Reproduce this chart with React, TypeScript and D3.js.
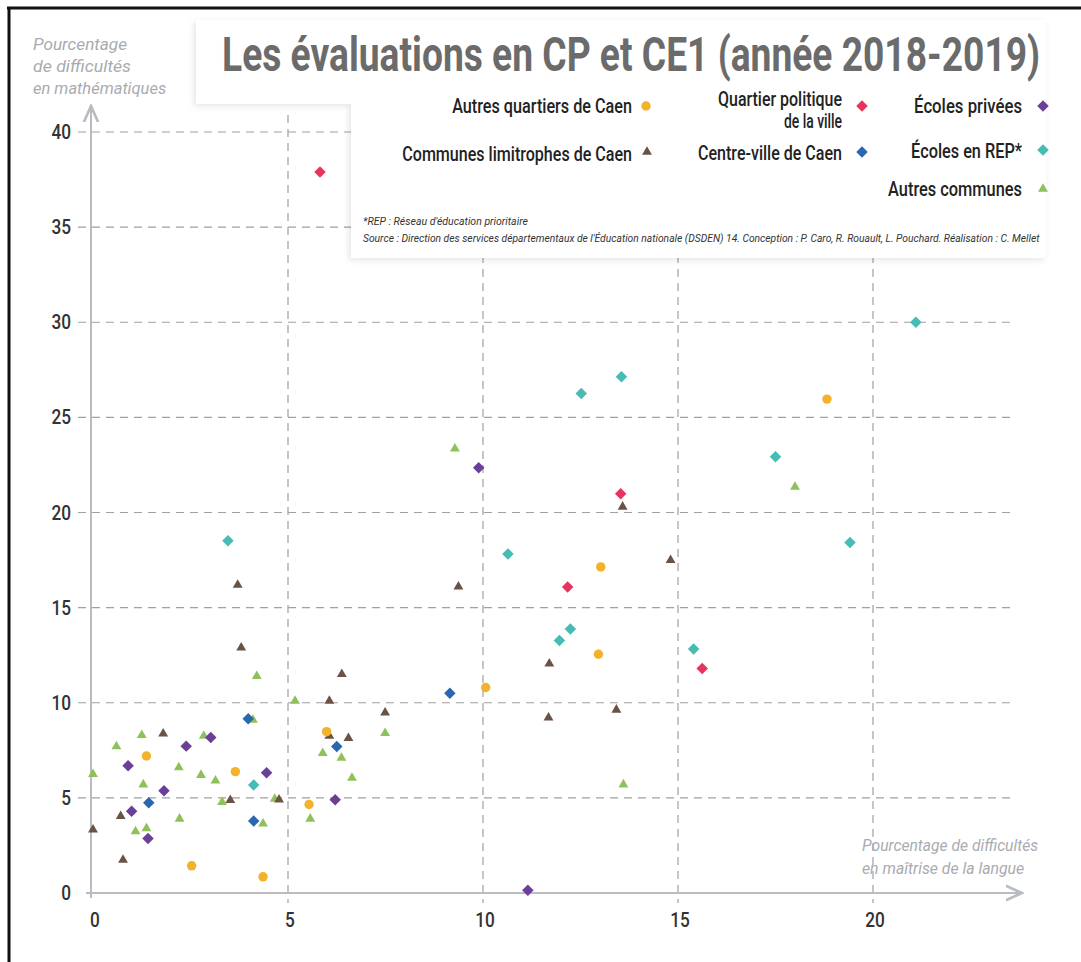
import React, { useLayoutEffect, useRef, useState } from 'react';
import * as d3 from 'd3';

// [x = % difficultés langue, y = % difficultés maths]
const autresQuartiers = [[1.37,7.2],[2.53,1.43],[3.65,6.38],[4.36,0.85],[5.54,4.65],[5.99,8.48],[10.07,10.8],[12.96,12.55],[13.02,17.14],[18.82,25.96]];
const communesLimitrophes = [[0,3.33],[0.71,4.04],[0.77,1.74],[1.8,8.38],[3.52,4.88],[3.71,16.19],[3.8,12.9],[4.77,4.91],[6.06,10.1],[6.06,8.26],[6.38,11.5],[6.55,8.14],[7.49,9.48],[9.37,16.1],[11.7,12.05],[11.68,9.21],[13.42,9.63],[13.58,20.3],[14.81,17.5]];
const quartierPolitique = [[5.82,37.9],[12.17,16.09],[13.53,20.98],[15.62,11.8]];
const centreVille = [[1.43,4.74],[3.98,9.16],[4.12,3.78],[6.25,7.7],[9.15,10.5]];
const ecolesPrivees = [[0.9,6.69],[0.99,4.3],[1.41,2.86],[1.82,5.38],[2.39,7.72],[3.02,8.17],[4.45,6.32],[6.21,4.9],[9.89,22.35],[11.15,0.15]];
const ecolesRep = [[3.46,18.51],[4.12,5.68],[10.64,17.82],[11.96,13.27],[12.24,13.88],[12.52,26.26],[13.55,27.13],[15.4,12.82],[17.5,22.93],[19.41,18.42],[21.1,30.0]];
const autresCommunes = [[0,6.25],[0.6,7.7],[1.25,8.3],[1.29,5.7],[1.09,3.24],[1.37,3.4],[2.2,6.6],[2.22,3.9],[2.77,6.2],[2.84,8.26],[3.14,5.9],[3.31,4.77],[4.1,9.1],[4.2,11.4],[4.36,3.64],[4.66,4.95],[5.18,10.1],[5.57,3.9],[5.89,7.35],[6.37,7.1],[6.64,6.05],[7.49,8.4],[9.28,23.35],[13.6,5.7],[18.0,21.34]];

const xTicks = [0, 5, 10, 15, 20];
const yTicks = [0, 5, 10, 15, 20, 25, 30, 35, 40];

// draw order: big groups first
const series = [
  { name: 'Autres communes', data: autresCommunes, shape: 'triangle', color: '#8fc15a' },
  { name: 'Communes limitrophes de Caen', data: communesLimitrophes, shape: 'triangle', color: '#6a5244' },
  { name: 'Autres quartiers de Caen', data: autresQuartiers, shape: 'circle', color: '#f2b22c' },
  { name: 'Écoles privées', data: ecolesPrivees, shape: 'diamond', color: '#6b3f98' },
  { name: 'Centre-ville de Caen', data: centreVille, shape: 'diamond', color: '#2b66b1' },
  { name: 'Écoles en REP*', data: ecolesRep, shape: 'diamond', color: '#46bcb3' },
  { name: 'Quartier politique de la ville', data: quartierPolitique, shape: 'diamond', color: '#e8345c' },
];

const font = "Roboto, 'Noto Sans', sans-serif";

const symbolPath = (shape) => {
  if (shape === 'circle') return d3.symbol(d3.symbolCircle, 70)();
  if (shape === 'triangle') return d3.symbol(d3.symbolTriangle, 42)();
  return d3.symbol(d3.symbolSquare, 66)();
};

const Marker = ({ shape, color, cx, cy }) => (
  <path
    d={symbolPath(shape)}
    fill={color}
    transform={`translate(${cx},${cy})${shape === 'diamond' ? ' rotate(45)' : ''}`}
  />
);

// text squeezed horizontally to a target width (condensed look)
const FitText = ({ x, y, width, anchor = 'start', children, ...rest }) => {
  const ref = useRef(null);
  const [k, setK] = useState(0.8);
  useLayoutEffect(() => {
    if (ref.current) {
      const w = ref.current.getComputedTextLength();
      if (w > 0) setK(width / w);
    }
  }, [width, children]);
  return (
    <text ref={ref} x={0} y={0} textAnchor={anchor} fontFamily={font} transform={`translate(${x},${y}) scale(${k},1)`} {...rest}>
      {children}
    </text>
  );
};

export default function App() {
  const width = 1081, height = 962;
  const x = d3.scaleLinear().domain([0, 20]).range([93, 873]);
  const y = d3.scaleLinear().domain([0, 40]).range([893, 132]);
  const gridColor = '#a0a0a0';
  const axisColor = '#b9bcc2';

  const legend = [
    { lines: [['Autres quartiers de Caen', 180]], right: 632, y: 113, mx: 646, my: 106, s: series[2] },
    { lines: [['Communes limitrophes de Caen', 230]], right: 632, y: 161, mx: 647, my: 152, s: series[1] },
    { lines: [['Quartier politique', 124], ['de la ville', 58]], right: 842, y: 106, mx: 862, my: 106, s: series[6] },
    { lines: [['Centre-ville de Caen', 144]], right: 842, y: 160, mx: 862, my: 152, s: series[4] },
    { lines: [['Écoles privées', 108]], right: 1022, y: 113, mx: 1043, my: 106, s: series[3] },
    { lines: [['Écoles en REP*', 111]], right: 1022, y: 158, mx: 1043, my: 150, s: series[5] },
    { lines: [['Autres communes', 134]], right: 1022, y: 196, mx: 1043, my: 189, s: series[0] },
  ];

  return (
    <svg width={width} height={height} style={{ position: 'absolute', left: 0, top: 0, background: '#fff' }}>
      <defs>
        <filter id="shadow" x="-5%" y="-10%" width="110%" height="130%">
          <feDropShadow dx="-2" dy="2" stdDeviation="3" floodColor="#000" floodOpacity="0.1" />
        </filter>
        <marker id="arrow" viewBox="0 0 10 10" refX="9" refY="5" markerWidth="9" markerHeight="9" orient="auto">
          <path d="M0,1 L9,5 L0,9" fill="none" stroke={axisColor} strokeWidth="1.5" />
        </marker>
      </defs>
      <rect x={0} y={0} width={width} height={height} fill="#fff" />

      {/* grid */}
      {yTicks.filter(t => t > 0).map(t => (
        <line key={'gy' + t} x1={78} x2={1010} y1={y(t)} y2={y(t)} stroke={gridColor} strokeWidth={1.2} strokeDasharray="8,6" />
      ))}
      {xTicks.filter(t => t > 0).map(t => (
        <line key={'gx' + t} x1={x(t)} x2={x(t)} y1={115} y2={903} stroke={gridColor} strokeWidth={1.2} strokeDasharray="8,6" />
      ))}

      {/* axes */}
      <line x1={86} x2={1022} y1={y(0)} y2={y(0)} stroke={axisColor} strokeWidth={2} markerEnd="url(#arrow)" />
      <line x1={91} x2={91} y1={898} y2={106} stroke={axisColor} strokeWidth={2} markerEnd="url(#arrow)" />

      {/* tick labels */}
      {yTicks.map(t => (
        <text key={'ly' + t} x={0} y={0} textAnchor="end" fontFamily={font} fontSize={21} fontWeight={500} fill="#333"
          transform={`translate(71,${y(t) + 7}) scale(0.82,1)`}>{t}</text>
      ))}
      {xTicks.map(t => (
        <text key={'lx' + t} x={0} y={0} textAnchor="middle" fontFamily={font} fontSize={21} fontWeight={500} fill="#333"
          transform={`translate(${x(t) + 2},927) scale(0.82,1)`}>{t}</text>
      ))}

      {/* points */}
      {series.map(s => s.data.map((d, i) => (
        <Marker key={s.name + i} shape={s.shape} color={s.color} cx={x(d[0])} cy={y(d[1])} />
      )))}

      {/* title + legend card */}
      <path d="M196,20 H1046 V258 H351 V104 H196 Z" fill="#fff" filter="url(#shadow)" />
      <FitText x={222} y={71} width={818} fontSize={48} fontWeight={700} fill="#6b6b6b">
        Les évaluations en CP et CE1 (année 2018-2019)
      </FitText>

      {legend.map((l, i) => (
        <g key={'lg' + i}>
          {l.lines.map((ln, j) => (
            <FitText key={j} x={l.right} y={l.y + j * 22} width={ln[1]} anchor="end" fontSize={20} fontWeight={500} fill="#222">{ln[0]}</FitText>
          ))}
          <Marker shape={l.s.shape} color={l.s.color} cx={l.mx} cy={l.my} />
        </g>
      ))}

      <FitText x={363} y={225} width={165} fontSize={11} fontStyle="italic" fill="#333">*REP : Réseau d'éducation prioritaire</FitText>
      <FitText x={363} y={242} width={677} fontSize={11} fontStyle="italic" fill="#333">
        Source : Direction des services départementaux de l'Éducation nationale (DSDEN) 14. Conception : P. Caro, R. Rouault, L. Pouchard. Réalisation : C. Mellet
      </FitText>

      {/* axis titles */}
      {[['Pourcentage', 94], ['de difficultés', 98], ['en mathématiques', 133]].map((t, i) => (
        <FitText key={'ya' + i} x={33} y={50 + i * 22} width={t[1]} fontSize={16} fontStyle="italic" fill="#a9abb0">{t[0]}</FitText>
      ))}
      {[['Pourcentage de difficultés', 176], ['en maîtrise de la langue', 162]].map((t, i) => (
        <FitText key={'xa' + i} x={862} y={851 + i * 23} width={t[1]} fontSize={17} fontStyle="italic" fill="#a9abb0">{t[0]}</FitText>
      ))}

      {/* frame */}
      <line x1={9} x2={9} y1={7} y2={height} stroke="#111" strokeWidth={3} />
      <line x1={7} x2={width} y1={8} y2={8} stroke="#111" strokeWidth={3} />
    </svg>
  );
}
